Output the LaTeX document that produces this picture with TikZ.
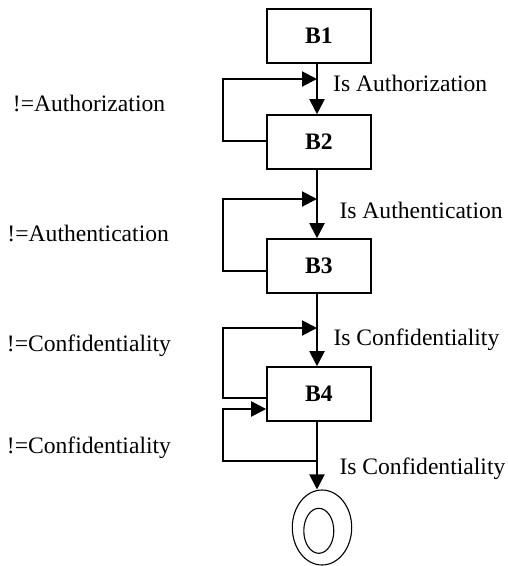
\documentclass[tikz,border=0pt]{standalone}
\usepackage{fontspec}
\setmainfont{Liberation Serif}
\usetikzlibrary{arrows.meta,shapes.geometric}
\begin{document}
\begin{tikzpicture}[x=1pt,y=-1pt,
  block/.style={draw,line width=1.6pt,minimum width=104pt,minimum height=54pt,
    inner sep=0pt,font=\fontsize{23.6}{26}\selectfont\bfseries},
  flow/.style={line width=2pt,-{Triangle[length=15pt,width=15pt]}},
  lbl/.style={anchor=base west,inner sep=0pt,font=\fontsize{23.6}{26}\selectfont},
  endring/.style={draw,ellipse,line width=1.1pt,inner sep=0pt}]
\useasboundingbox (0,0) rectangle (508,566);

% processing blocks
\node[block] (B1) at (319,36) {B1};
\node[block] (B2) at (319,142) {B2};
\node[block] (B3) at (319,266) {B3};
\node[block] (B4) at (319,394) {B4};

% final state
\node[endring,minimum width=59.4pt,minimum height=75pt] (F) at (322,527.5) {};
\node[endring,minimum width=30pt,minimum height=45pt] (Fi) at (318.8,530.8) {};

% main flow line and loop corners
\coordinate (ax) at (317,0);
\coordinate (lx) at (223,0);
\coordinate (j1) at (317,79);
\coordinate (j2) at (317,199);
\coordinate (j3) at (317,328);
\coordinate (j4) at (317,461);

\draw[flow] (B1.south -| ax) -- (B2.north -| ax);
\draw[flow] (B2.south -| ax) -- (B3.north -| ax);
\draw[flow] (B3.south -| ax) -- (B4.north -| ax);
\draw[flow] (B4.south -| ax) -- (F.north -| ax);

% feedback loops
\draw[flow] (B2.west |- 0,141) -- (lx |- 0,141) -- (lx |- j1) -- (j1);
\draw[flow] (B3.west |- 0,271) -- (lx |- 0,271) -- (lx |- j2) -- (j2);
\draw[flow] (B4.west |- 0,398) -- (lx |- 0,398) -- (lx |- j3) -- (j3);
\draw[flow] (j4) -- (lx |- j4) -- (lx |- 0,409) -- (B4.west |- 0,409);

% condition labels
\node[lbl] (t1) at (333,91.7) {Is Authorization};
\node[lbl] (t2) at (339.3,218.3) {Is Authentication};
\node[lbl] (t3) at (333.3,345.7) {Is Confidentiality};
\node[lbl] (t4) at (339.3,474.3) {Is Confidentiality};

\node[lbl] (n1) at (12.7,111.7) {!=Authorization};
\node[lbl] (n2) at (7.3,241.7) {!=Authentication};
\node[lbl] (n3) at (6.7,351.7) {!=Confidentiality};
\node[lbl] (n4) at (6.7,453.3) {!=Confidentiality};
\end{tikzpicture}
\end{document}
